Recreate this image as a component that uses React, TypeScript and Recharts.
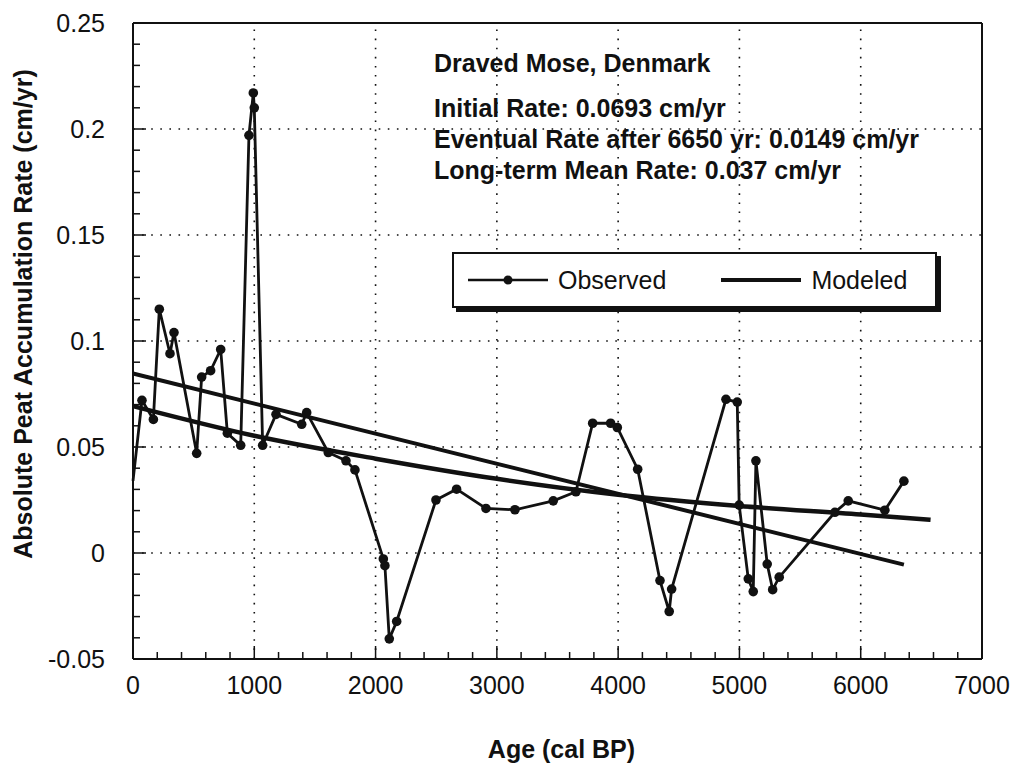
import React from 'react';
import { LineChart, Line, XAxis, YAxis, ReferenceLine, Label } from 'recharts';

// observed accumulation rate
const obsAge = [0, 74, 168, 217, 305, 338, 525, 566, 640, 723, 778, 888, 956, 992, 1000, 1069, 1179, 1391, 1432, 1610, 1756, 1830, 2064, 2077, 2113, 2174, 2498, 2668, 2910, 3149, 3465, 3652, 3790, 3938, 3993, 4161, 4345, 4421, 4441, 4889, 4982, 4998, 5073, 5114, 5136, 5229, 5274, 5328, 5787, 5897, 6199, 6356];
const obsRate = [0.034, 0.072, 0.063, 0.115, 0.094, 0.104, 0.047, 0.083, 0.086, 0.096, 0.0565, 0.0508, 0.197, 0.217, 0.21, 0.0508, 0.0654, 0.0607, 0.0662, 0.0474, 0.0435, 0.0392, -0.0028, -0.006, -0.0405, -0.0323, 0.025, 0.0301, 0.021, 0.0204, 0.0246, 0.0289, 0.0612, 0.0612, 0.0592, 0.0395, -0.013, -0.0276, -0.017, 0.0725, 0.0712, 0.0226, -0.0122, -0.0182, 0.0435, -0.0052, -0.0173, -0.0114, 0.0192, 0.0246, 0.0202, 0.0339];

// modeled: exponential decay curve and straight fit
const curveAge = [0, 1000, 2000, 3000, 4000, 5000, 6000, 6576];
const curveRate = [0.0693, 0.0553, 0.0445, 0.035, 0.0275, 0.0222, 0.0182, 0.0157];
const fitAge = [0, 6356];
const fitRate = [0.0847, -0.0055];

const xMajor = [0, 1000, 2000, 3000, 4000, 5000, 6000, 7000];
const yMajor = [-0.05, 0, 0.05, 0.1, 0.15, 0.2, 0.25];
const xTicks = Array.from({ length: 36 }, (_, i) => i * 200);
const yTicks = Array.from({ length: 31 }, (_, i) => Number((-0.05 + i * 0.01).toFixed(2)));

const notes = [
    'Initial Rate: 0.0693 cm/yr',
    'Eventual Rate after 6650 yr: 0.0149 cm/yr',
    'Long-term Mean Rate: 0.037 cm/yr',
];

const observed = obsAge.map((age, i) => ({ age, rate: obsRate[i] }));
const curve = curveAge.map((age, i) => ({ age, rate: curveRate[i] }));
const fit = fitAge.map((age, i) => ({ age, rate: fitRate[i] }));

const FONT = '"Liberation Sans", Arial, sans-serif';
const INK = '#111';

const isMajorX = (v: number) => v % 1000 === 0;
const isMajorY = (v: number) => Math.round(v * 100) % 5 === 0;

const BottomTick = (p: any) => {
    const major = isMajorX(p.payload.value);
    return (
        <g>
            <line x1={p.x} y1={p.y} x2={p.x} y2={p.y - (major ? 13 : 7)} stroke={INK} strokeWidth={1.5} />
            {major && (
                <text x={p.x} y={p.y + 35} textAnchor="middle" fontSize={25} fontFamily={FONT} fill={INK}>
                    {p.payload.value}
                </text>
            )}
        </g>
    );
};

const TopTick = (p: any) => {
    const major = isMajorX(p.payload.value);
    return <line x1={p.x} y1={p.y} x2={p.x} y2={p.y + (major ? 13 : 7)} stroke={INK} strokeWidth={1.5} />;
};

const LeftTick = (p: any) => {
    const major = isMajorY(p.payload.value);
    return (
        <g>
            <line x1={p.x} y1={p.y} x2={p.x + (major ? 13 : 7)} y2={p.y} stroke={INK} strokeWidth={1.5} />
            {major && (
                <text x={p.x - 28} y={p.y} dy="0.36em" textAnchor="end" fontSize={25} fontFamily={FONT} fill={INK}>
                    {Number(p.payload.value.toFixed(2))}
                </text>
            )}
        </g>
    );
};

const RightTick = (p: any) => {
    const major = isMajorY(p.payload.value);
    return <line x1={p.x} y1={p.y} x2={p.x - (major ? 13 : 7)} y2={p.y} stroke={INK} strokeWidth={1.5} />;
};

const ObsDot = (p: any) =>
    p.index === 0 ? <g key={p.key ?? p.index} /> : <circle key={p.key ?? p.index} cx={p.cx} cy={p.cy} r={4.8} fill={INK} />;

const XTitle = (p: any) => {
    const vb = p.viewBox;
    return (
        <text x={vb.x + vb.width / 2 + 4} y={vb.y + 99} textAnchor="middle" fontSize={25} fontWeight="bold" fontFamily={FONT} fill={INK}>
            Age (cal BP)
        </text>
    );
};

// the title sits a little above the middle of the axis in the original
const YTitle = (p: any) => {
    const vb = p.viewBox;
    const cy = vb.y + vb.height / 2 - 27;
    return (
        <text x={32} y={cy} transform={`rotate(-90 32 ${cy})`} textAnchor="middle" fontSize={25} fontWeight="bold" fontFamily={FONT} fill={INK}>
            Absolute Peat Accumulation Rate (cm/yr)
        </text>
    );
};

const axisLine = { stroke: INK, strokeWidth: 2 };

export default function App() {
    return (
        <div style={{ position: 'relative', width: 1015, height: 767, background: '#fff', fontFamily: FONT }}>
            <style>{'body{margin:0;background:#fff}'}</style>
            <LineChart width={1015} height={767} margin={{ top: 0, right: 0, bottom: 0, left: 0 }}>
                <XAxis
                    dataKey="age"
                    type="number"
                    domain={[0, 7000]}
                    ticks={xTicks}
                    interval={0}
                    height={108}
                    tickSize={0}
                    tickMargin={0}
                    tickLine={false}
                    axisLine={axisLine}
                    tick={BottomTick}
                >
                    <Label content={XTitle} />
                </XAxis>
                <XAxis
                    xAxisId="top"
                    orientation="top"
                    type="number"
                    domain={[0, 7000]}
                    ticks={xTicks}
                    interval={0}
                    height={23}
                    tickSize={0}
                    tickMargin={0}
                    tickLine={false}
                    axisLine={axisLine}
                    tick={TopTick}
                />
                <YAxis
                    type="number"
                    domain={[-0.05, 0.25]}
                    ticks={yTicks}
                    interval={0}
                    width={133}
                    tickSize={0}
                    tickMargin={0}
                    tickLine={false}
                    axisLine={axisLine}
                    tick={LeftTick}
                >
                    <Label content={YTitle} />
                </YAxis>
                <YAxis
                    yAxisId="right"
                    orientation="right"
                    type="number"
                    domain={[-0.05, 0.25]}
                    ticks={yTicks}
                    interval={0}
                    width={33}
                    tickSize={0}
                    tickMargin={0}
                    tickLine={false}
                    axisLine={axisLine}
                    tick={RightTick}
                />
                {xMajor.slice(1, -1).map(v => (
                    <ReferenceLine key={`vx${v}`} x={v} stroke={INK} strokeWidth={1.6} strokeDasharray="1.6 7.5" />
                ))}
                {yMajor.slice(1, -1).map(v => (
                    <ReferenceLine key={`hy${v}`} y={v} stroke={INK} strokeWidth={1.6} strokeDasharray="1.6 7.5" />
                ))}
                <Line data={fit} dataKey="rate" type="linear" stroke={INK} strokeWidth={4} dot={false} isAnimationActive={false} />
                <Line data={curve} dataKey="rate" type="monotone" stroke={INK} strokeWidth={4.5} dot={false} isAnimationActive={false} />
                <Line data={observed} dataKey="rate" type="linear" stroke={INK} strokeWidth={2.8} dot={ObsDot} isAnimationActive={false} />
            </LineChart>

            <div style={{ position: 'absolute', left: 434, top: 48, color: INK, fontWeight: 'bold', fontSize: 25, lineHeight: '31px' }}>
                <div style={{ marginBottom: 14 }}>Draved Mose, Denmark</div>
                {notes.map(n => (
                    <div key={n} style={{ whiteSpace: 'nowrap' }}>{n}</div>
                ))}
            </div>

            <div
                style={{
                    position: 'absolute',
                    left: 452,
                    top: 252,
                    width: 481,
                    height: 52,
                    border: `2px solid ${INK}`,
                    boxShadow: `4px 4px 0 ${INK}`,
                    background: '#fff',
                    display: 'flex',
                    alignItems: 'center',
                    fontSize: 25,
                    color: INK,
                }}
            >
                <svg width={82} height={12} style={{ marginLeft: 14 }}>
                    <line x1={0} y1={6} x2={80} y2={6} stroke={INK} strokeWidth={2.5} />
                    <circle cx={40} cy={6} r={4.5} fill={INK} />
                </svg>
                <span style={{ marginLeft: 8 }}>Observed</span>
                <svg width={82} height={12} style={{ marginLeft: 55 }}>
                    <line x1={0} y1={6} x2={80} y2={6} stroke={INK} strokeWidth={4} />
                </svg>
                <span style={{ marginLeft: 8 }}>Modeled</span>
            </div>
        </div>
    );
}
